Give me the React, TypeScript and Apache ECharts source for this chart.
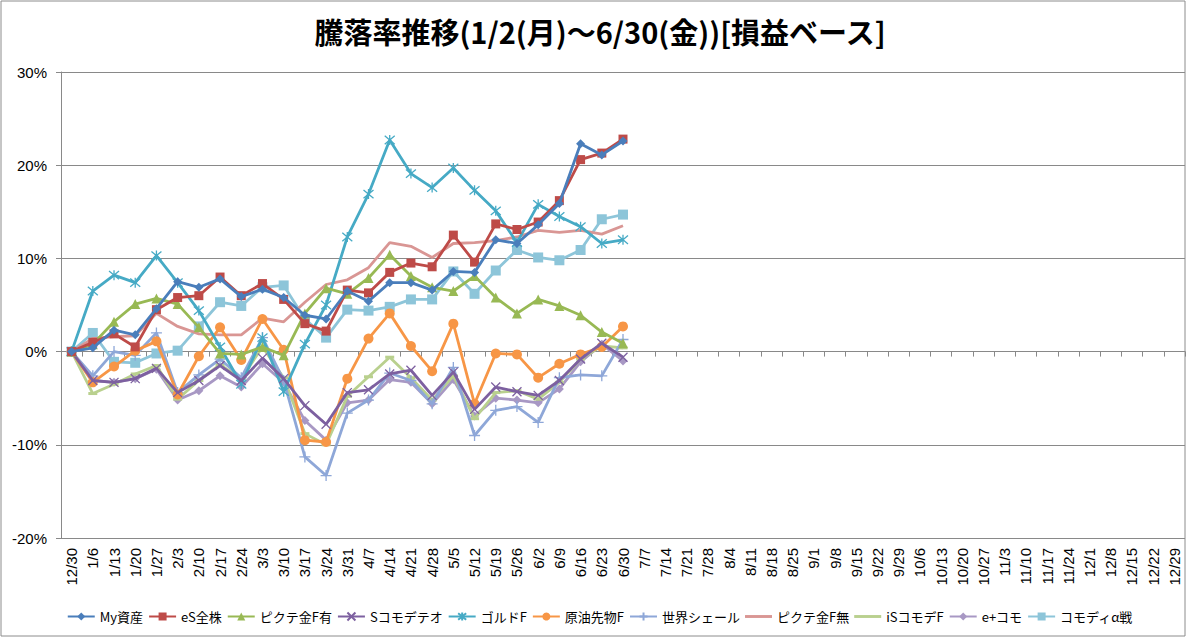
import React, { useEffect, useRef } from "react";
import * as echarts from "echarts";

const titleText = "騰落率推移(1/2(月)～6/30(金))[損益ベース]";

const dates = [
  "12/30", "1/6", "1/13", "1/20", "1/27", "2/3", "2/10", "2/17", "2/24", "3/3", "3/10", "3/17", "3/24",
  "3/31", "4/7", "4/14", "4/21", "4/28", "5/5", "5/12", "5/19", "5/26", "6/2", "6/9", "6/16", "6/23", "6/30",
  "7/7", "7/14", "7/21", "7/28", "8/4", "8/11", "8/18", "8/25", "9/1", "9/8", "9/15", "9/22", "9/29",
  "10/6", "10/13", "10/20", "10/27", "11/3", "11/10", "11/17", "11/24", "12/1", "12/8", "12/15", "12/22", "12/29",
];

const yTicks = { min: -20, max: 30, interval: 10 };

const myAsset = [0, 0.4, 2.3, 1.8, 4.6, 7.5, 6.9, 7.8, 5.9, 6.7, 5.8, 3.9, 3.5, 6.5, 5.4, 7.4, 7.4, 6.6, 8.6, 8.5, 12.0, 11.6, 13.6, 15.9, 22.3, 21.1, 22.6];
const esAll = [0, 1.0, 1.9, 0.5, 4.5, 5.8, 6.0, 8.0, 6.0, 7.3, 5.6, 3.0, 2.2, 6.6, 6.3, 8.5, 9.5, 9.1, 12.5, 9.6, 13.7, 13.1, 13.9, 16.2, 20.6, 21.3, 22.8];
const pictetYes = [0, 0.8, 3.2, 5.1, 5.7, 5.1, 2.6, -0.2, -0.3, 0.5, -0.4, 4.1, 6.8, 6.2, 7.9, 10.4, 8.1, 6.9, 6.5, 8.1, 5.8, 4.1, 5.6, 4.9, 3.9, 2.1, 0.9];
const sCommo = [0, -3.1, -3.3, -2.9, -1.8, -4.4, -3.1, -1.5, -3.1, -0.7, -2.9, -5.8, -7.8, -4.4, -4.1, -2.4, -2.0, -4.7, -2.2, -6.2, -3.8, -4.3, -4.7, -3.1, -0.8, 0.9, -0.6];
const goldF = [0, 6.5, 8.2, 7.4, 10.3, 7.4, 4.4, 0.5, -3.5, 1.5, -4.3, 0.8, 5.0, 12.3, 16.9, 22.7, 19.1, 17.6, 19.7, 17.3, 15.1, 11.7, 15.8, 14.5, 13.4, 11.6, 12.0];
const oilF = [0, -3.3, -1.6, 0.1, 1.1, -4.6, -0.5, 2.6, -0.9, 3.5, 0.2, -9.5, -9.7, -2.9, 1.4, 4.1, 0.6, -2.1, 3.0, -5.6, -0.2, -0.3, -2.8, -1.3, -0.3, 0.5, 2.7];
const shale = [0, -2.6, 0.0, -0.4, 2.0, -4.4, -2.5, -0.8, -2.8, 1.5, -3.1, -11.3, -13.3, -6.6, -5.2, -2.3, -3.1, -5.6, -1.7, -9.0, -6.3, -5.9, -7.6, -2.8, -2.5, -2.6, 1.3];
const pictetNo = [0, 1.4, 1.6, 1.7, 4.1, 2.7, 1.9, 1.8, 1.8, 3.6, 3.2, 5.3, 7.2, 7.7, 9.0, 11.7, 11.3, 10.1, 11.6, 11.7, 11.9, 12.3, 13.0, 12.8, 13.0, 12.6, 13.5];
const isCommo = [0, -4.5, -3.5, -2.4, -1.5, -5.1, -3.1, -1.4, -2.9, 0.5, -2.8, -8.8, -10.0, -4.8, -2.7, -0.6, -2.8, -5.2, -2.6, -7.2, -4.4, -4.2, -5.1, -3.3, -0.8, 0.6, 0.4];
const ePlus = [0, -3.1, -3.3, -2.9, -1.9, -5.2, -4.2, -2.6, -3.8, -1.3, -3.3, -7.4, -9.5, -5.5, -5.2, -3.0, -3.3, -5.6, -3.0, -6.9, -5.0, -5.2, -5.5, -4.0, -1.1, 0.8, -1.0];
const alphaSen = [0, 2.0, -1.1, -1.2, -0.2, 0.1, 2.7, 5.3, 4.9, 6.9, 7.1, 3.5, 1.5, 4.5, 4.4, 4.8, 5.6, 5.6, 8.6, 6.2, 8.7, 10.9, 10.1, 9.8, 10.9, 14.2, 14.7];

const seriesNames = ["My資産", "eS全株", "ピクテ金F有", "Sコモデテオ", "ゴルドF", "原油先物F", "世界シェール", "ピクテ金F無", "iSコモデF", "e+コモ", "コモディα戦"];
const seriesValues = [myAsset, esAll, pictetYes, sCommo, goldF, oilF, shale, pictetNo, isCommo, ePlus, alphaSen];

const colors = ["#4A7EBB", "#BE4B48", "#98B954", "#7D60A0", "#46AAC5", "#F79646", "#8EA7D8", "#D99694", "#B9D08E", "#A898C4", "#8DC5D9"];

const XMARK = "path://M0,0L10,10M10,0L0,10";
const STAR = "path://M0,0L10,10M10,0L0,10M5,-1L5,11";
const PLUS = "path://M5,0L5,10M0,5L10,5";
const BAR = "path://M0,0L28,0L28,3L0,3Z";

const symbols: any[] = ["diamond", "rect", "triangle", XMARK, STAR, "circle", PLUS, "none", "rect", "diamond", "rect"];
const symbolSizes: any[] = [9, 9, 10, 9, 10, 10, 11, 0, [9, 3], 9, 10];
const strokeSymbol = [false, false, false, true, true, false, true, false, false, false, false];
const plainLegend = [false, false, false, false, false, false, false, true, true, false, false];

const JP = "'Noto Sans CJK JP', 'Noto Sans', sans-serif";
const NUM = "'Liberation Sans', 'Noto Sans', sans-serif";
const GRID = "#898989";

export default function App() {
  const ref = useRef<HTMLDivElement>(null);

  useEffect(() => {
    if (!ref.current) return;
    const chart = echarts.init(ref.current, null, { renderer: "svg" });

    const series = seriesNames.map((name, i) => ({
      name,
      type: "line",
      xAxisIndex: 0,
      yAxisIndex: 0,
      data: seriesValues[i],
      symbol: symbols[i],
      symbolSize: symbolSizes[i],
      showSymbol: symbols[i] !== "none",
      lineStyle: { color: colors[i], width: 2.8 },
      itemStyle: strokeSymbol[i]
        ? { color: colors[i], borderColor: colors[i], borderWidth: 1.3 }
        : { color: colors[i], borderWidth: 0 },
      z: 20 - i,
    }));

    const legendData = seriesNames.map((name, i) =>
      plainLegend[i] ? { name, icon: BAR, itemStyle: { color: colors[i] } } : { name }
    );

    chart.setOption({
      animation: false,
      backgroundColor: "#ffffff",
      title: {
        text: titleText,
        left: "center",
        top: 11,
        textStyle: { fontFamily: JP, fontSize: 29, fontWeight: "bold", color: "#000" },
      },
      legend: {
        data: legendData,
        left: "center",
        top: 605,
        itemWidth: 27,
        itemHeight: 10,
        itemGap: 5,
        textStyle: { fontFamily: JP, fontSize: 13, color: "#000" },
      },
      grid: { left: 61, right: 15, top: 72, bottom: 100, containLabel: false },
      xAxis: [
        {
          type: "category",
          data: dates,
          position: "bottom",
          boundaryGap: true,
          axisLine: { show: false, onZero: false },
          axisTick: { show: false },
          axisLabel: { rotate: 90, interval: 0, fontSize: 15, fontFamily: NUM, color: "#000", margin: 10 },
          splitLine: { show: false },
        },
        {
          type: "category",
          data: dates,
          position: "bottom",
          boundaryGap: true,
          axisLine: { show: true, onZero: true, lineStyle: { color: GRID, width: 1 } },
          axisTick: { show: true, length: 5, interval: 0, lineStyle: { color: GRID } },
          axisLabel: { show: false },
          splitLine: { show: false },
        },
      ],
      yAxis: {
        type: "value",
        min: yTicks.min,
        max: yTicks.max,
        interval: yTicks.interval,
        axisLine: { show: true, lineStyle: { color: GRID, width: 1 } },
        axisTick: { show: true, length: 5, lineStyle: { color: GRID } },
        axisLabel: { formatter: "{value}%", fontSize: 15, fontFamily: NUM, color: "#000", margin: 14 },
        splitLine: { show: true, lineStyle: { color: GRID, width: 1 } },
      },
      graphic: [
        {
          type: "rect",
          shape: { x: 1, y: 1, width: 1184, height: 635 },
          style: { fill: "none", stroke: "#8c8c8c", lineWidth: 1 },
          silent: true,
          z: 100,
        },
      ],
      series,
    });

    return () => chart.dispose();
  }, []);

  return (
    <div
      ref={ref}
      style={{ position: "fixed", left: 0, top: 0, width: 1200, height: 638, background: "#fff" }}
    />
  );
}
